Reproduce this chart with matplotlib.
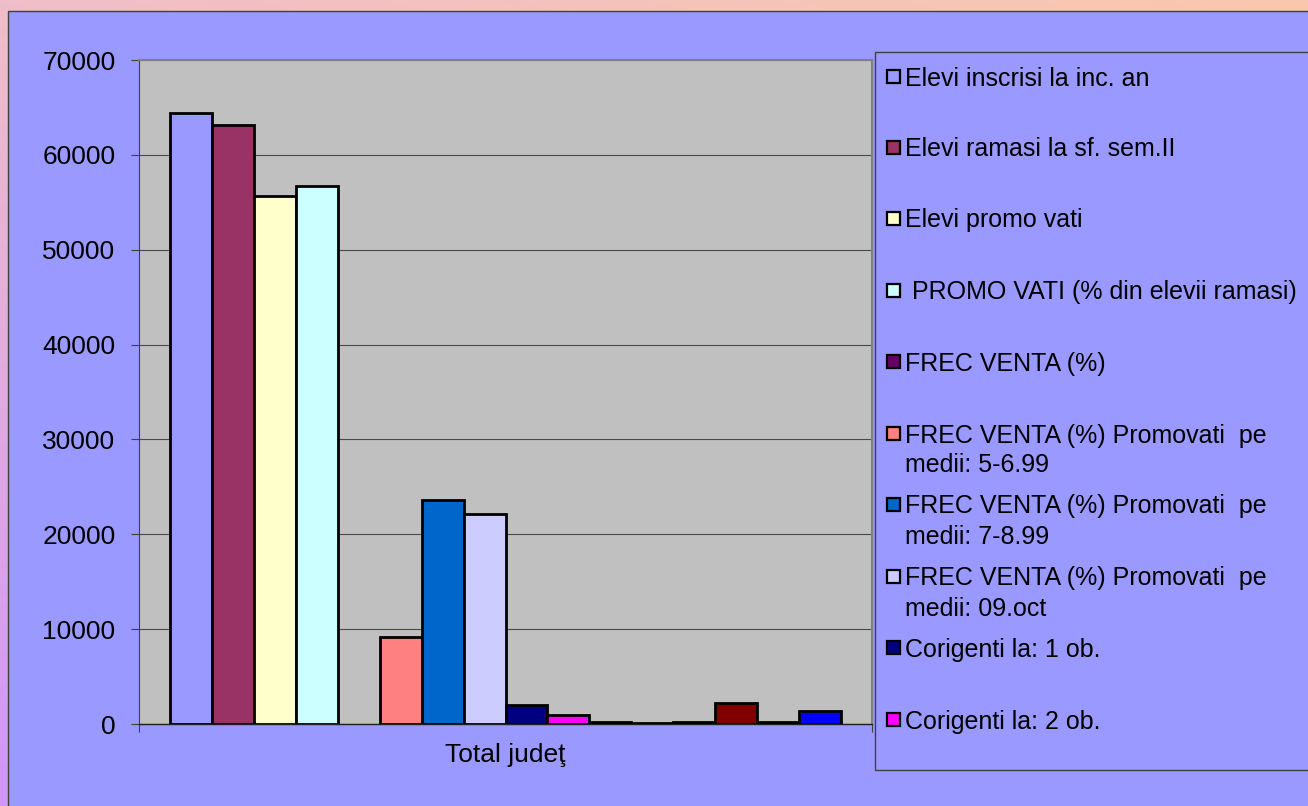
import numpy as np
import matplotlib
matplotlib.use("Agg")
import matplotlib.pyplot as plt
from matplotlib.patches import Rectangle

# ---------------- data ----------------
categories = ["Total judeţ"]
series_values = [64400, 63100, 55650, 56700, np.nan, 9170, 23600, 22150,
                 2000, 950, 250, 100, 200, 2180, 250, 1340]
series_colors = ["#9999FF", "#993366", "#FFFFCC", "#CCFFFF", "#660066", "#FF8080",
                 "#0066CC", "#CCCCFF", "#000080", "#FF00FF", "#FFFF00", "#00FFFF",
                 "#800080", "#800000", "#008080", "#0000FF"]
legend_labels = ["Elevi inscrisi la inc. an",
                 "Elevi ramasi la sf. sem.II",
                 "Elevi promo vati",
                 " PROMO VATI (% din elevii ramasi)",
                 "FREC VENTA (%)",
                 "FREC VENTA (%) Promovati  pe\nmedii: 5-6.99",
                 "FREC VENTA (%) Promovati  pe\nmedii: 7-8.99",
                 "FREC VENTA (%) Promovati  pe\nmedii: 09.oct",
                 "Corigenti la: 1 ob.",
                 "Corigenti la: 2 ob."]
y_ticks = [0, 10000, 20000, 30000, 40000, 50000, 60000, 70000]

W, H = 1308, 806
plt.rcParams["font.family"] = ["Liberation Sans", "DejaVu Sans"]
fig = plt.figure(figsize=(W / 100, H / 100), dpi=100)

# ---------------- background ----------------
bg = fig.add_axes([0, 0, 1, 1], zorder=0)
bg.set_xlim(0, W)
bg.set_ylim(H, 0)
bg.axis("off")
tl = np.array([240, 190, 200]) / 255
tr = np.array([250, 200, 174]) / 255
bl = np.array([208, 150, 250]) / 255
br = np.array([230, 175, 220]) / 255
u = np.linspace(0, 1, 200)[None, :, None]
v = np.linspace(0, 1, 120)[:, None, None]
grad = (1 - v) * ((1 - u) * tl + u * tr) + v * ((1 - u) * bl + u * br)
bg.imshow(grad, extent=[0, W, H, 0], aspect="auto", interpolation="bilinear")
bg.add_patch(Rectangle((8, 11), W + 20, H + 20, facecolor="#9999FF",
                       edgecolor="#404040", linewidth=1.0))

# ---------------- plot ----------------
ax = fig.add_axes([139 / W, (H - 724) / H, 733 / W, 664 / H], zorder=2)
ax.set_facecolor("#C0C0C0")
n = len(series_values)
xpos = np.arange(n)
ax.bar(xpos, series_values, width=1.0, color=series_colors,
       edgecolor="black", linewidth=2.0, zorder=3)
ax.set_xlim(-0.5 - 0.738, n - 0.5 + 0.738)
ax.set_ylim(0, 70000)
ax.set_yticks(y_ticks)
ax.set_yticklabels([str(t) for t in y_ticks], fontsize=19)
ax.yaxis.grid(True, color="#4a4a4a", linewidth=0.8, zorder=1)
ax.set_axisbelow(True)
ax.tick_params(axis="y", direction="out", length=6, width=0.8,
               color="#404040", pad=11)
ax.set_xticks([(n - 1) / 2])
ax.set_xticklabels(categories, fontsize=19)
ax.tick_params(axis="x", which="major", length=0, pad=14)
ax.set_xticks([ax.get_xlim()[0], ax.get_xlim()[1]], minor=True)
ax.tick_params(axis="x", which="minor", direction="out", length=6,
               width=0.8, color="#404040")
for s in ["top", "right"]:
    ax.spines[s].set_color("#808080")
    ax.spines[s].set_linewidth(1.5)
ax.spines["left"].set_color("#404040")
ax.spines["left"].set_linewidth(0.8)
ax.spines["bottom"].set_color("#202020")
ax.spines["bottom"].set_linewidth(1.0)

# ---------------- legend ----------------
lg = fig.add_axes([0, 0, 1, 1], zorder=5)
lg.set_xlim(0, W)
lg.set_ylim(H, 0)
lg.axis("off")
lg.patch.set_alpha(0)
lg.add_patch(Rectangle((875, 52), W, 770 - 52, facecolor="#9999FF",
                       edgecolor="#404040", linewidth=1.0))
entry_y = [76, 147, 218, 290, 361, 433, 504, 576, 647, 719]
line_gap = 30
for lab, col, y0 in zip(legend_labels, series_colors, entry_y):
    lg.add_patch(Rectangle((887, y0 - 6.5), 13, 13, facecolor=col,
                           edgecolor="black", linewidth=1.6))
    for k, line in enumerate(lab.split("\n")):
        lg.text(905, y0 + k * line_gap, line, fontsize=18, va="center_baseline",
                ha="left", color="black")

fig.savefig("out.png", dpi=100)
